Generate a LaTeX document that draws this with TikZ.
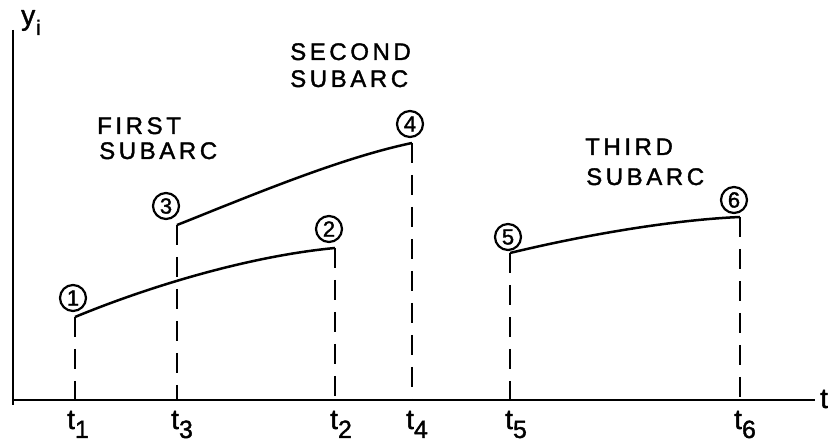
\documentclass[tikz,border=0pt]{standalone}
\usepackage{fontspec}
\setmainfont{Liberation Sans}[FakeBold=1.2]
\newfontfamily\lblfont[LetterSpace=15,FakeBold=1.5]{Liberation Sans}
\newfontfamily\numfont[FakeBold=1.5]{Liberation Sans}
\begin{document}
\begin{tikzpicture}[x=1pt,y=1pt,
  line join=round,
  axis/.style={line width=2.5pt},
  curve/.style={line width=2.5pt},
  dashv/.style={line width=2.5pt, dash pattern=on 20pt off 12pt},
  numc/.style={circle, draw, line width=2.2pt, minimum size=26pt, inner sep=0pt, font=\numfont\fontsize{22}{22}\selectfont},
  lbl/.style={anchor=base west, inner sep=0pt, font=\lblfont\fontsize{24}{24}\selectfont},
  tlab/.style={anchor=base west, inner sep=0pt, font=\numfont\fontsize{28}{28}\selectfont}]
\useasboundingbox (0,0) rectangle (835,446);

% axes
\coordinate (ytop) at (13,416);
\coordinate (O) at (13,46);
\coordinate (ofoot) at (13,41);
\coordinate (xend) at (815,46);
\draw[axis] (ytop) -- (ofoot);
\draw[axis] (O) -- (xend);
\node[tlab] (ylab) at (21,421) {y};
\node[anchor=base west, inner sep=0pt, font=\numfont\fontsize{21}{21}\selectfont] (ysub) at (36,411) {i};
\node[tlab] (tax) at (820,38) {t};

% arc points
\coordinate (p1) at (75,129);
\coordinate (p2) at (335,198);
\coordinate (p3) at (177,221);
\coordinate (p4) at (412,303);
\coordinate (p5) at (510,193);
\coordinate (p6) at (740,229);
% feet
\coordinate (b1) at (75,46);
\coordinate (b2) at (335,46);
\coordinate (b3) at (177,46);
\coordinate (b4) at (412,46);
\coordinate (b5) at (510,46);
\coordinate (b6) at (740,46);

% subarcs
\draw[curve] (p1) .. controls (150,160) and (250,190) .. (p2);
\draw[curve] (p3) .. controls (250,250) and (340,288) .. (p4);
\draw[curve] (p5) .. controls (580,210) and (670,226) .. (p6);

% dashed verticals
\draw[dashv] (p1) -- (b1);
\draw[dashv] (p2) -- (b2);
\draw[dashv] (p3) -- (b3);
\draw[dashv] (p4) -- (b4);
\draw[dashv] (p5) -- (b5);
\draw[dashv] (p6) -- (b6);

% numbered circles
\node[numc] (c1) at (73,148) {1};
\node[numc] (c2) at (329,217) {2};
\node[numc] (c3) at (166,240) {3};
\node[numc] (c4) at (410,322) {4};
\node[numc] (c5) at (508,209) {5};
\node[numc] (c6) at (734,246) {6};

% subarc labels
\node[lbl] (f1) at (97,312) {FIRST};
\node[lbl] (f2) at (99,287) {SUBARC};
\node[lbl] (s1) at (290,386) {SECOND};
\node[lbl] (s2) at (290,359) {SUBARC};
\node[lbl] (h1) at (585,291) {THIRD};
\node[lbl] (h2) at (586,261) {SUBARC};

% time labels
\newcommand\tsub[1]{t\raisebox{-9pt}{\fontsize{25}{25}\selectfont #1}}
\node[tlab] (t1) at (67,17) {\tsub{1}};
\node[tlab] (t3) at (171,17) {\tsub{3}};
\node[tlab] (t2) at (330,17) {\tsub{2}};
\node[tlab] (t4) at (406,17) {\tsub{4}};
\node[tlab] (t5) at (505,17) {\tsub{5}};
\node[tlab] (t6) at (734,17) {\tsub{6}};
\end{tikzpicture}
\end{document}
